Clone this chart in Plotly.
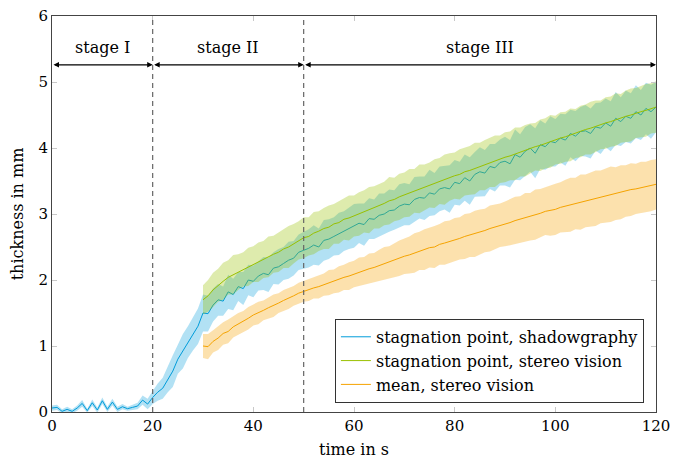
import plotly.graph_objects as go

# ---------------- data ----------------
t_shadow = list(range(0, 121))
shadow = [0.06, 0.07, 0.01, 0.04, 0.01, 0.06, 0.13, 0.02, 0.14, 0.03,
          0.17, 0.04, 0.15, 0.04, 0.08, 0.05, 0.07, 0.09, 0.18, 0.12,
          0.22, 0.30, 0.36, 0.50, 0.62, 0.80, 0.92, 1.06, 1.18, 1.30,
          1.50, 1.49, 1.62, 1.70, 1.68, 1.82, 1.78, 1.90, 1.87, 2.00,
          1.98, 2.06, 2.10, 2.08, 2.18, 2.20, 2.25, 2.30, 2.33, 2.42,
          2.45, 2.48, 2.53, 2.50, 2.60, 2.62, 2.66, 2.70, 2.74, 2.78,
          2.82, 2.86, 2.84, 2.93, 2.92, 2.98, 3.00, 3.05, 3.06, 3.12,
          3.15, 3.14, 3.22, 3.25, 3.24, 3.32, 3.30, 3.38, 3.40, 3.38,
          3.48, 3.46, 3.55, 3.50, 3.60, 3.64, 3.62, 3.72, 3.70, 3.78,
          3.80, 3.76, 3.90, 3.86, 3.95, 4.00, 3.92, 4.05, 4.02, 4.10,
          4.08, 4.15, 4.12, 4.22, 4.18, 4.25, 4.26, 4.22, 4.32, 4.30,
          4.38, 4.33, 4.45, 4.40, 4.48, 4.45, 4.55, 4.50, 4.60, 4.55,
          4.62]
shadow_err = [0.04, 0.04, 0.03, 0.04, 0.03, 0.04, 0.05, 0.03, 0.05, 0.04,
              0.05, 0.04, 0.05, 0.04, 0.04, 0.03, 0.04, 0.05, 0.07, 0.08,
              0.10, 0.13, 0.16, 0.20, 0.24, 0.22, 0.26, 0.24, 0.25, 0.27,
              0.28, 0.27, 0.25, 0.24, 0.22, 0.26, 0.24, 0.22, 0.25, 0.23,
              0.24, 0.22, 0.25, 0.26, 0.24, 0.27, 0.25, 0.28, 0.26, 0.27,
              0.28, 0.29, 0.30, 0.28, 0.31, 0.30, 0.29, 0.32, 0.30, 0.31,
              0.33, 0.30, 0.32, 0.31, 0.30, 0.33, 0.31, 0.32, 0.30, 0.33,
              0.32, 0.31, 0.34, 0.32, 0.33, 0.35, 0.32, 0.34, 0.33, 0.36,
              0.34, 0.33, 0.35, 0.36, 0.34, 0.37, 0.35, 0.34, 0.36, 0.35,
              0.37, 0.36, 0.38, 0.35, 0.37, 0.36, 0.38, 0.37, 0.35, 0.38,
              0.36, 0.37, 0.39, 0.36, 0.38, 0.37, 0.39, 0.38, 0.36, 0.39,
              0.37, 0.38, 0.40, 0.37, 0.39, 0.38, 0.40, 0.38, 0.39, 0.41,
              0.38]

t_stereo = list(range(30, 121))
stereo = [1.70, 1.76, 1.85, 1.92, 1.98, 2.04, 2.08, 2.12, 2.16, 2.20,
          2.24, 2.27, 2.31, 2.35, 2.39, 2.42, 2.47, 2.50, 2.55, 2.60,
          2.64, 2.66, 2.71, 2.74, 2.78, 2.80, 2.85, 2.87, 2.92, 2.94,
          2.97, 3.00, 3.04, 3.06, 3.10, 3.12, 3.16, 3.20, 3.22, 3.26,
          3.29, 3.32, 3.35, 3.38, 3.40, 3.44, 3.46, 3.50, 3.52, 3.56,
          3.58, 3.60, 3.64, 3.66, 3.69, 3.72, 3.74, 3.78, 3.80, 3.83,
          3.86, 3.88, 3.91, 3.94, 3.96, 3.99, 4.02, 4.04, 4.07, 4.10,
          4.12, 4.15, 4.17, 4.20, 4.22, 4.25, 4.28, 4.30, 4.33, 4.35,
          4.38, 4.40, 4.43, 4.45, 4.48, 4.50, 4.53, 4.55, 4.57, 4.60,
          4.62]
stereo_err = [0.22, 0.24, 0.26, 0.25, 0.28, 0.26, 0.30, 0.27, 0.26, 0.29,
              0.27, 0.30, 0.28, 0.31, 0.28, 0.30, 0.29, 0.32, 0.30, 0.29,
              0.31, 0.29, 0.32, 0.30, 0.31, 0.33, 0.30, 0.32, 0.31, 0.34,
              0.31, 0.33, 0.32, 0.35, 0.32, 0.34, 0.33, 0.36, 0.33, 0.35,
              0.34, 0.36, 0.33, 0.37, 0.35, 0.34, 0.37, 0.35, 0.38, 0.36,
              0.35, 0.38, 0.36, 0.37, 0.39, 0.36, 0.38, 0.37, 0.39, 0.36,
              0.38, 0.37, 0.40, 0.37, 0.39, 0.38, 0.36, 0.39, 0.38, 0.40,
              0.37, 0.39, 0.38, 0.40, 0.37, 0.39, 0.38, 0.40, 0.39, 0.37,
              0.39, 0.38, 0.40, 0.37, 0.39, 0.40, 0.38, 0.39, 0.40, 0.38,
              0.39]

mean_sv = [1.00, 0.99, 1.07, 1.12, 1.19, 1.22, 1.29, 1.33, 1.37, 1.42,
           1.47, 1.50, 1.54, 1.58, 1.61, 1.65, 1.69, 1.72, 1.76, 1.80,
           1.83, 1.85, 1.88, 1.90, 1.93, 1.96, 1.98, 2.01, 2.04, 2.06,
           2.09, 2.12, 2.14, 2.17, 2.19, 2.22, 2.25, 2.27, 2.30, 2.33,
           2.36, 2.38, 2.41, 2.44, 2.46, 2.49, 2.50, 2.54, 2.56, 2.58,
           2.61, 2.63, 2.66, 2.68, 2.70, 2.73, 2.75, 2.78, 2.80, 2.83,
           2.85, 2.87, 2.90, 2.92, 2.95, 2.96, 2.99, 3.01, 3.04, 3.05,
           3.07, 3.10, 3.12, 3.14, 3.16, 3.18, 3.20, 3.22, 3.24, 3.26,
           3.28, 3.30, 3.31, 3.33, 3.35, 3.37, 3.38, 3.40, 3.41, 3.43,
           3.45]
mean_err = [0.18, 0.19, 0.17, 0.18, 0.17, 0.18, 0.16, 0.17, 0.16, 0.17,
            0.16, 0.17, 0.15, 0.16, 0.17, 0.15, 0.16, 0.16, 0.15, 0.16,
            0.16, 0.17, 0.16, 0.18, 0.17, 0.19, 0.18, 0.20, 0.19, 0.21,
            0.20, 0.22, 0.21, 0.23, 0.22, 0.24, 0.25, 0.24, 0.26, 0.27,
            0.27, 0.28, 0.30, 0.29, 0.31, 0.30, 0.32, 0.31, 0.33, 0.32,
            0.33, 0.32, 0.34, 0.33, 0.35, 0.34, 0.33, 0.35, 0.34, 0.33,
            0.34, 0.35, 0.36, 0.35, 0.37, 0.36, 0.38, 0.37, 0.36, 0.38,
            0.39, 0.38, 0.40, 0.41, 0.39, 0.42, 0.40, 0.41, 0.42, 0.40,
            0.41, 0.42, 0.40, 0.41, 0.39, 0.40, 0.38, 0.39, 0.38, 0.39,
            0.38]

stage_bounds = [0, 20, 50, 120]
stage_labels = ["stage I", "stage II", "stage III"]
stage_arrow_y = 5.26
stage_text_y = 5.53

names = ["stagnation point, shadowgraphy",
         "stagnation point, stereo vision",
         "mean, stereo vision"]

# ---------------- styling ----------------
BLUE = "#009CDA"
GREEN = "#99C000"
ORANGE = "#F5A300"
FONT = "DejaVu Serif"
FS = 16
TFS = 15


def band(x, y, e, color):
    up = [a + b for a, b in zip(y, e)]
    lo = [a - b for a, b in zip(y, e)]
    return go.Scatter(x=list(x) + list(x)[::-1], y=up + lo[::-1],
                      fill="toself", fillcolor=color, mode="lines",
                      line=dict(width=0, color=color), hoverinfo="skip",
                      showlegend=False)


fig = go.Figure()
fig.add_trace(band(t_shadow, shadow, shadow_err, "rgba(0,156,218,0.30)"))
fig.add_trace(go.Scatter(x=t_shadow, y=shadow, mode="lines", name=names[0],
                         line=dict(color=BLUE, width=1)))
fig.add_trace(band(t_stereo, stereo, stereo_err, "rgba(153,192,0,0.32)"))
fig.add_trace(go.Scatter(x=t_stereo, y=stereo, mode="lines", name=names[1],
                         line=dict(color=GREEN, width=1)))
fig.add_trace(band(t_stereo, mean_sv, mean_err, "rgba(245,163,0,0.32)"))
fig.add_trace(go.Scatter(x=t_stereo, y=mean_sv, mode="lines", name=names[2],
                         line=dict(color=ORANGE, width=1)))

shapes = []
for xb in stage_bounds[1:-1]:
    shapes.append(dict(type="line", xref="x", yref="y", x0=xb, x1=xb,
                       y0=0, y1=6, line=dict(color="#666666", width=1.2,
                                             dash="5px,4px")))

annotations = []
for i, lab in enumerate(stage_labels):
    a, b = stage_bounds[i], stage_bounds[i + 1]
    annotations.append(dict(x=b, y=stage_arrow_y, ax=a, ay=stage_arrow_y,
                            xref="x", yref="y", axref="x", ayref="y",
                            text="", showarrow=True, arrowside="end+start",
                            arrowhead=2, arrowsize=1.0, arrowwidth=1.1,
                            arrowcolor="black", standoff=0, startstandoff=0))
    annotations.append(dict(x=(a + b) / 2, y=stage_text_y, xref="x",
                            yref="y", text=lab, showarrow=False,
                            font=dict(family=FONT, size=FS, color="black")))

axis_common = dict(showgrid=False, zeroline=False, ticks="inside",
                   ticklen=5, tickcolor="#c8c8c8", tickwidth=1,
                   showline=True, linecolor="#444444", linewidth=1,
                   mirror="ticks", automargin=False,
                   ticklabeloverflow="allow",
                   tickfont=dict(family=FONT, size=TFS, color="black"))

fig.update_layout(
    width=673, height=462,
    margin=dict(l=52, r=17, t=16, b=50, autoexpand=False),
    paper_bgcolor="white", plot_bgcolor="white",
    font=dict(family=FONT, size=FS, color="black"),
    xaxis=dict(range=[0, 120], tickvals=[0, 20, 40, 60, 80, 100, 120],
               title=dict(text="time in s", standoff=9,
                          font=dict(family=FONT, size=FS)),
               **axis_common),
    yaxis=dict(range=[0, 6], tickvals=[0, 1, 2, 3, 4, 5, 6],
               title=dict(text="thickness in mm", standoff=10,
                          font=dict(family=FONT, size=FS)),
               **axis_common),
    legend=dict(x=0.98, y=0.023, xanchor="right", yanchor="bottom",
                bgcolor="white", bordercolor="#333333", borderwidth=1,
                font=dict(family=FONT, size=FS), tracegroupgap=0,
                itemwidth=30),
    shapes=shapes,
    annotations=annotations,
)

# remove the default page margin so the figure fills the window exactly
fig.write_html(
    "out.html",
    config={"displayModeBar": False},
    post_script="document.body.style.margin='0px';"
                "document.body.style.overflow='hidden';",
)
